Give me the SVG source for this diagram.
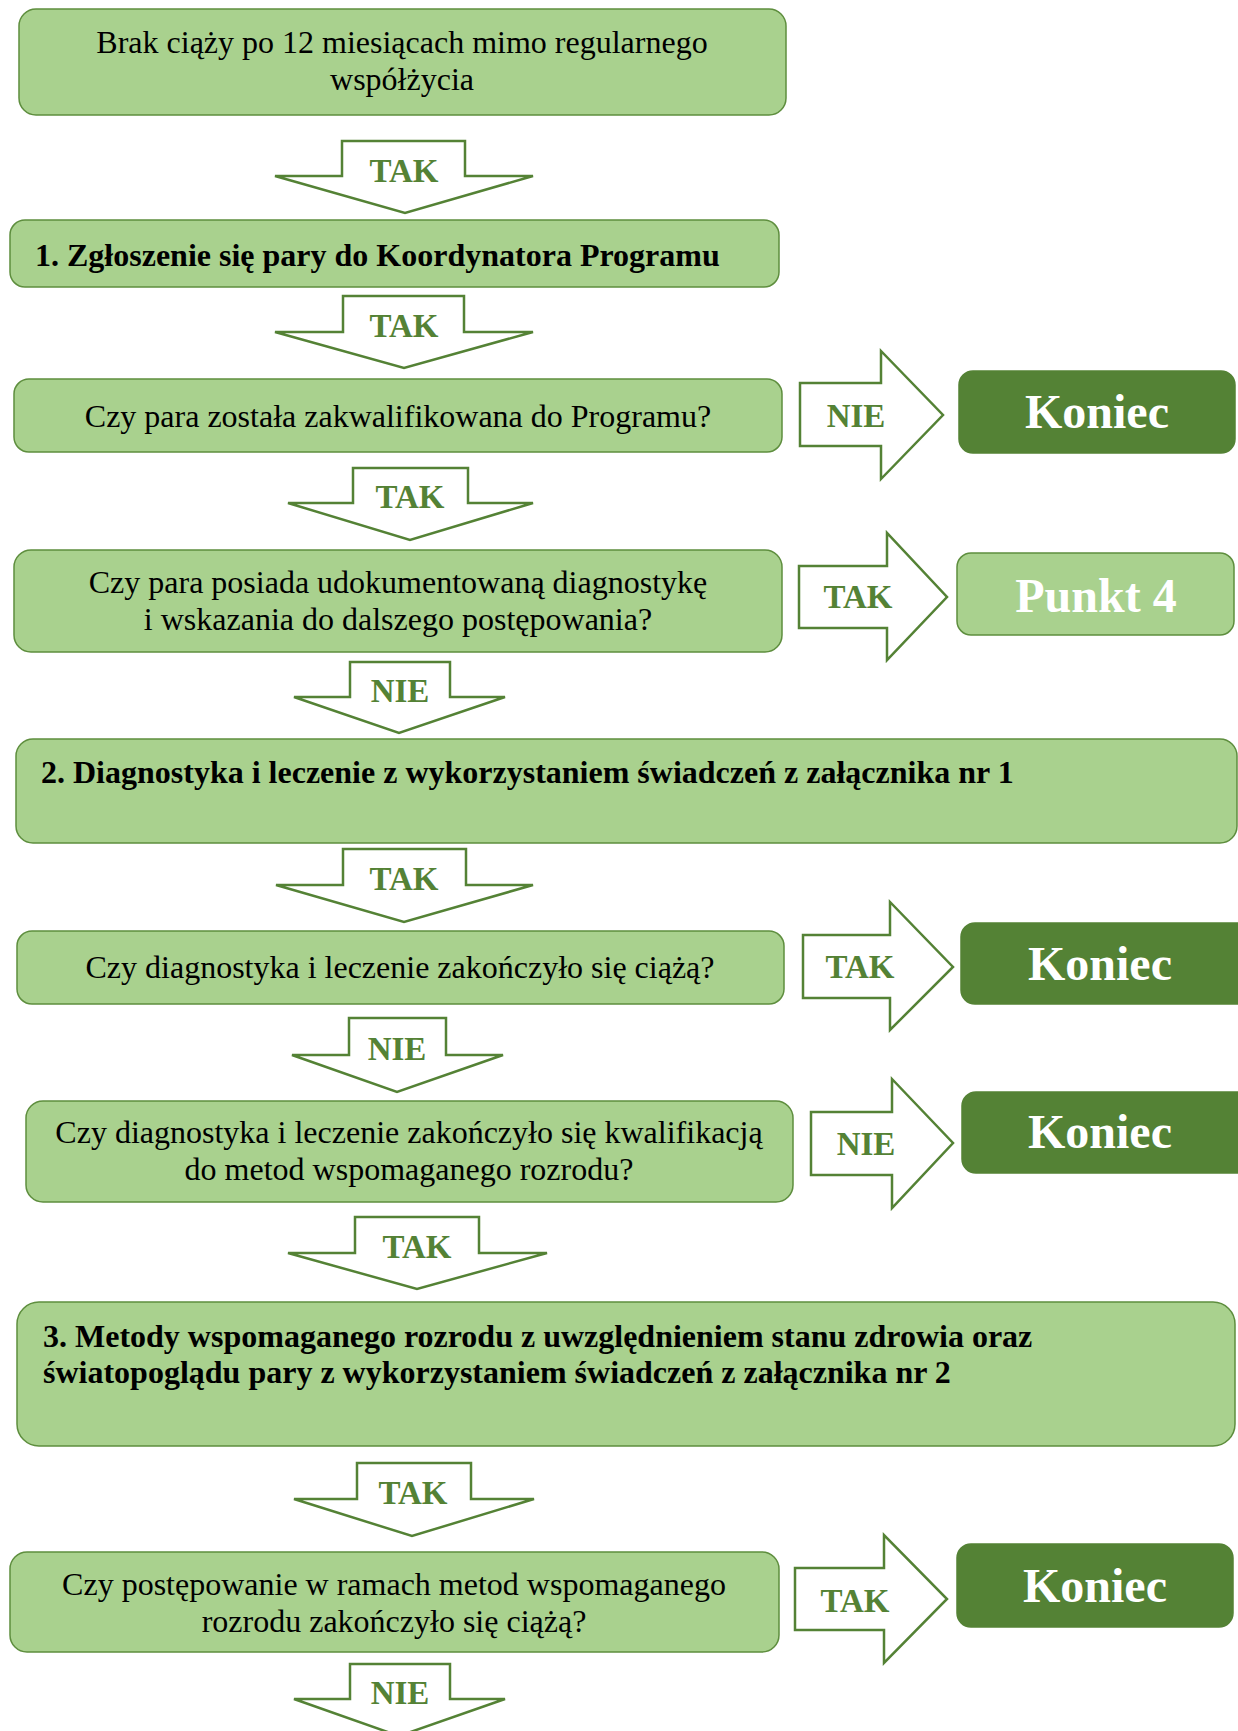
<svg xmlns="http://www.w3.org/2000/svg" width="1238" height="1731" viewBox="0 0 1238 1731">
<style>
.box{fill:#A9D18E;stroke:#5E8E3E;stroke-width:1.5}
.end{fill:#548235;stroke:#548235;stroke-width:1.5}
.arr{fill:#FFFFFF;stroke:#548235;stroke-width:2.5;stroke-linejoin:miter}
.t{font-family:"Liberation Serif","Times New Roman",serif;font-size:32px;fill:#000;text-anchor:middle}
.tb{font-family:"Liberation Serif","Times New Roman",serif;font-size:32px;font-weight:bold;fill:#000}
.lbl{font-family:"Liberation Serif","Times New Roman",serif;font-size:33px;font-weight:bold;fill:#548235;text-anchor:middle}
.big{font-family:"Liberation Serif","Times New Roman",serif;font-size:48px;font-weight:bold;fill:#FFFFFF;text-anchor:middle}
</style>
<rect width="1238" height="1731" fill="#FFFFFF"/>

<g id="connectors">
  <g id="a1"><polygon class="arr" points="342,141 465,141 465,176 533,176 405,213 275,176 342,176"/><text class="lbl" x="404" y="182">TAK</text></g>
  <g id="a2"><polygon class="arr" points="343,296 464,296 464,332 533,332 404,368 275,332 343,332"/><text class="lbl" x="404" y="337">TAK</text></g>
  <g id="a3"><polygon class="arr" points="353,468 468,468 468,503 533,503 410,540 288,503 353,503"/><text class="lbl" x="410" y="508">TAK</text></g>
  <g id="a4"><polygon class="arr" points="350,662 450,662 450,697 505,697 399,733 294,697 350,697"/><text class="lbl" x="400" y="702">NIE</text></g>
  <g id="a5"><polygon class="arr" points="343,849 466,849 466,885 533,885 404,922 276,885 343,885"/><text class="lbl" x="404" y="890">TAK</text></g>
  <g id="a6"><polygon class="arr" points="349,1018 446,1018 446,1055 503,1055 397,1092 292,1055 349,1055"/><text class="lbl" x="397" y="1060">NIE</text></g>
  <g id="a7"><polygon class="arr" points="355,1217 479,1217 479,1253 547,1253 417,1289 288,1253 355,1253"/><text class="lbl" x="417" y="1258">TAK</text></g>
  <g id="a8"><polygon class="arr" points="357,1463 471,1463 471,1499 534,1499 412,1536 294,1499 357,1499"/><text class="lbl" x="413" y="1504">TAK</text></g>
  <g id="a9"><polygon class="arr" points="350,1664 450,1664 450,1699 505,1699 399,1736 294,1699 350,1699"/><text class="lbl" x="400" y="1704">NIE</text></g>

  <g id="r1"><polygon class="arr" points="800,383 881,383 881,351 943,415 881,479 881,446 800,446"/><text class="lbl" x="856" y="427">NIE</text></g>
  <g id="r2"><polygon class="arr" points="799,566 887,566 887,533 947,597 887,660 887,628 799,628"/><text class="lbl" x="858" y="608">TAK</text></g>
  <g id="r3"><polygon class="arr" points="803,935 890,935 890,902 953,967 890,1030 890,998 803,998"/><text class="lbl" x="860" y="978">TAK</text></g>
  <g id="r4"><polygon class="arr" points="811,1112 892,1112 892,1079 953,1143 892,1208 892,1175 811,1175"/><text class="lbl" x="866" y="1155">NIE</text></g>
  <g id="r5"><polygon class="arr" points="795,1568 884,1568 884,1535 947,1599 884,1663 884,1630 795,1630"/><text class="lbl" x="855" y="1612">TAK</text></g>
</g>

<g id="n1"><rect class="box" x="19" y="9" width="767" height="106" rx="17"/>
  <text class="t" x="402" y="53">Brak ciąży po 12 miesiącach mimo regularnego</text>
  <text class="t" x="402" y="90">współżycia</text></g>
<g id="n2"><rect class="box" x="10" y="220" width="769" height="67" rx="15"/>
  <text class="tb" x="35" y="266">1. Zgłoszenie się pary do Koordynatora Programu</text></g>
<g id="n3"><rect class="box" x="14" y="379" width="768" height="73" rx="15"/>
  <text class="t" x="398" y="427">Czy para została zakwalifikowana do Programu?</text></g>
<g id="e1"><rect class="end" x="959" y="371" width="276" height="82" rx="14"/>
  <text class="big" x="1097" y="428">Koniec</text></g>
<g id="n4"><rect class="box" x="14" y="550" width="768" height="102" rx="17"/>
  <text class="t" x="398" y="593">Czy para posiada udokumentowaną diagnostykę</text>
  <text class="t" x="398" y="630">i wskazania do dalszego postępowania?</text></g>
<g id="p4"><rect class="box" x="957" y="553" width="277" height="82" rx="14"/>
  <text class="big" x="1096" y="612">Punkt 4</text></g>
<g id="n5"><rect class="box" x="16" y="739" width="1221" height="104" rx="17"/>
  <text class="tb" x="41" y="783">2. Diagnostyka i leczenie z wykorzystaniem świadczeń z załącznika nr 1</text></g>
<g id="n6"><rect class="box" x="17" y="931" width="767" height="73" rx="15"/>
  <text class="t" x="400" y="978">Czy diagnostyka i leczenie zakończyło się ciążą?</text></g>
<g id="e2"><rect class="end" x="961" y="923" width="290" height="81" rx="14"/>
  <text class="big" x="1100" y="980">Koniec</text></g>
<g id="n7"><rect class="box" x="26" y="1101" width="767" height="101" rx="17"/>
  <text class="t" x="409" y="1143">Czy diagnostyka i leczenie zakończyło się kwalifikacją</text>
  <text class="t" x="409" y="1180">do metod wspomaganego rozrodu?</text></g>
<g id="e3"><rect class="end" x="962" y="1092" width="290" height="81" rx="14"/>
  <text class="big" x="1100" y="1148">Koniec</text></g>
<g id="n8"><rect class="box" x="17" y="1302" width="1218" height="144" rx="22"/>
  <text class="tb" x="43" y="1347">3. Metody wspomaganego rozrodu z uwzględnieniem stanu zdrowia oraz</text>
  <text class="tb" x="43" y="1383">światopoglądu pary z wykorzystaniem świadczeń z załącznika nr 2</text></g>
<g id="n9"><rect class="box" x="10" y="1552" width="769" height="100" rx="17"/>
  <text class="t" x="394" y="1595">Czy postępowanie w ramach metod wspomaganego</text>
  <text class="t" x="394" y="1632">rozrodu zakończyło się ciążą?</text></g>
<g id="e4"><rect class="end" x="957" y="1544" width="276" height="83" rx="14"/>
  <text class="big" x="1095" y="1602">Koniec</text></g>
</svg>
